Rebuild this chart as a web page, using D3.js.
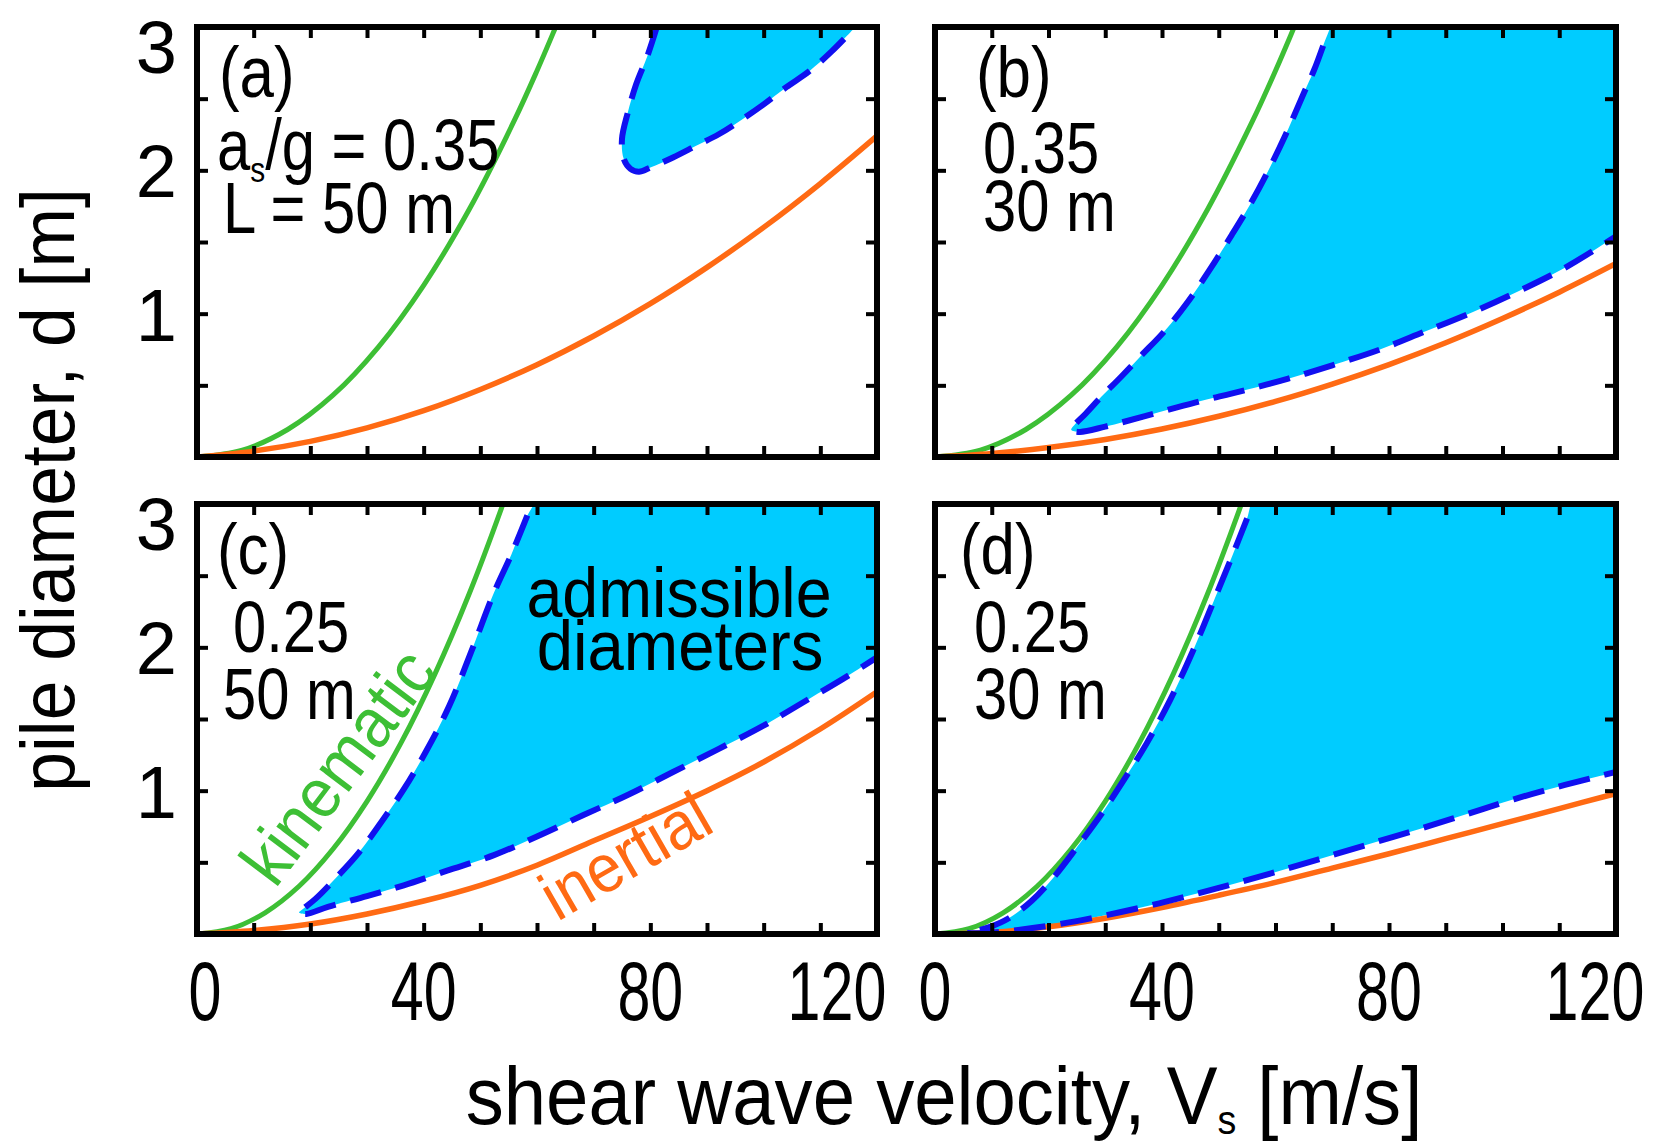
<!DOCTYPE html>
<html><head><meta charset="utf-8">
<script src="https://cdn.jsdelivr.net/npm/d3@7"></script>
<style>body{margin:0;background:#fff}</style></head>
<body><svg id="c" width="1663" height="1143"></svg>
<script>
// ---------- data ----------
const vsTicks = [0, 40, 80, 120];
const dTicks = [1, 2, 3];
const vsMinor = [0,10,20,30,40,50,60,70,80,90,100,110,120];
const dMinor = [0,0.5,1,1.5,2,2.5,3];
const panelLabels = ["(a)", "(b)", "(c)", "(d)"];
const accelLabels = ["0.35", "0.35", "0.25", "0.25"];
const lengthLabels = ["50 m", "30 m", "50 m", "30 m"];

// kinematic limit (green), [Vs, d]
const kinematic035 = [[0,0],[8,0.048],[16,0.192],[24,0.431],[32,0.767],[40,1.198],[48,1.725],[56,2.348],[60,2.695],[63.3,3.0],[65,3.16]];
const kinematic025 = [[0,0],[6,0.037],[12,0.148],[18,0.333],[24,0.593],[30,0.926],[36,1.333],[42,1.815],[48,2.37],[54,3.0],[56,3.23]];

// inertial limit (orange), d at Vs = 0,10,...,120
const inertialVs = [0,10,20,30,40,50,60,70,80,90,100,110,120];
const inertialA = [0,0.041,0.109,0.203,0.323,0.471,0.644,0.844,1.070,1.323,1.602,1.908,2.24];
const inertialB = [0,0.025,0.066,0.122,0.195,0.284,0.388,0.509,0.645,0.797,0.966,1.150,1.35];
const inertialC = [0,0.025,0.07,0.14,0.23,0.34,0.48,0.65,0.82,1.0,1.2,1.43,1.69];
const inertialD = [0,0.012,0.05,0.11,0.185,0.27,0.36,0.46,0.56,0.665,0.77,0.875,0.98];

// admissible region boundaries (blue dashed), [Vs, d]
const boundaryA = [[81.3,3.02],[79.5,2.8],[77.5,2.6],[76.0,2.4],[75.0,2.22],[75.3,2.08],[76.5,2.01],[78,1.99],[80,2.02],[84,2.09],[88,2.17],[92,2.25],[96,2.35],[100,2.46],[104,2.58],[108,2.69],[112,2.83],[116.2,3.0]];
const upperB = [[69.9,3.02],[68.4,2.87],[66.8,2.7],[65,2.54],[61.8,2.25],[58.5,1.98],[55.5,1.76],[52.3,1.55],[48.3,1.3],[44.5,1.08],[40.5,0.88],[36.4,0.71],[32.8,0.56],[29.3,0.42],[26.5,0.3],[24.6,0.225],[24.0,0.19]];
const lowerB = [[25.5,0.175],[30,0.212],[37,0.285],[45.8,0.38],[54,0.46],[62.1,0.545],[70,0.64],[78.4,0.75],[86,0.87],[94.7,1.01],[103,1.16],[111,1.32],[120,1.54]];
const upperC = [[59.9,3.02],[58.3,2.92],[55.5,2.65],[52.4,2.38],[48.5,1.98],[44.5,1.59],[40.5,1.28],[36.5,1.01],[32.5,0.78],[28.6,0.57],[24.5,0.39],[20.9,0.245],[18.7,0.175],[18.0,0.15]];
const lowerC = [[19.3,0.14],[23.1,0.19],[30,0.265],[36.5,0.34],[44,0.44],[52.4,0.55],[60,0.68],[68.2,0.83],[76,0.97],[84,1.13],[92,1.29],[99.8,1.45],[108,1.64],[114,1.78],[120,1.93]];
const upperD = [[55.7,3.02],[55,2.9],[52.5,2.65],[49.5,2.36],[45.5,1.98],[41.4,1.63],[37.3,1.33],[33.2,1.07],[29.2,0.83],[25.1,0.61],[21,0.4],[17.0,0.23],[13,0.11],[9.7,0.05],[7,0.02],[5.5,0.01]];
const lowerD = [[8,0.005],[15,0.03],[22,0.07],[30,0.13],[38,0.2],[46,0.28],[54,0.365],[62,0.455],[70,0.55],[78,0.645],[86,0.74],[94,0.84],[102,0.94],[111,1.04],[120,1.13]];

// ---------- drawing ----------
const svg = d3.select("#c");
svg.append("rect").attr("width",1663).attr("height",1143).attr("fill","#fff");
const FONT = "'Liberation Sans', Arial, Helvetica, sans-serif";
const C_FILL = "#00ccff", C_BLUE = "#1010f0", C_GREEN = "#3dbf35", C_ORANGE = "#ff6a13";

function txt(parent, x, y, str, o) {
  o = o || {};
  const t = parent.append("text")
    .attr("transform", `translate(${x},${y}) rotate(${o.rot||0}) scale(${o.sx||1},1)`)
    .attr("font-family", FONT).attr("font-size", o.size || 60)
    .attr("text-anchor", o.anchor || "start").attr("fill", o.fill || "#000");
  if (str !== null) t.text(str);
  return t;
}

const layout = [
  {x:197, y:27, w:680, h:430},
  {x:935, y:27, w:681, h:430},
  {x:197, y:504, w:680, h:430},
  {x:935, y:504, w:681, h:430}
];
const kin = [kinematic035, kinematic035, kinematic025, kinematic025];
const inert = [inertialA, inertialB, inertialC, inertialD];
const regions = [
  {closed: boundaryA},
  {upper: upperB, lower: lowerB},
  {upper: upperC, lower: lowerC},
  {upper: upperD, lower: lowerD}
];
const annPos = [
  {lx: 22, ly: 70, ax: 20, ay: 143, bx: 26, by: 206},
  {lx: 41, ly: 70, ax: 48, ay: 146, bx: 48, by: 204},
  {lx: 20, ly: 70, ax: 36, ay: 148, bx: 26, by: 215},
  {lx: 25, ly: 70, ax: 39, ay: 148, bx: 39, by: 215}
];

layout.forEach((L, i) => {
  const g = svg.append("g").attr("transform", `translate(${L.x},${L.y})`);
  const x = d3.scaleLinear().domain([0,120]).range([0, L.w]);
  const y = d3.scaleLinear().domain([0,3]).range([L.h, 0]);
  const clipId = "clip" + i;
  g.append("clipPath").attr("id", clipId).append("rect").attr("width", L.w).attr("height", L.h);
  const plot = g.append("g").attr("clip-path", `url(#${clipId})`);
  const line = d3.line().x(d => x(d[0])).y(d => y(d[1])).curve(d3.curveCatmullRom.alpha(0.5));

  // admissible region fill
  const R = regions[i];
  let dStr, dashPts;
  if (R.closed) {
    dashPts = R.closed;
    dStr = line(R.closed) + `L${x(R.closed[R.closed.length-1][0])},${y(3.3)}L${x(R.closed[0][0])},${y(3.3)}Z`;
  } else {
    dashPts = R.upper.slice(1).concat(R.lower);
    const last = R.lower[R.lower.length-1];
    dStr = line(R.upper.concat(R.lower)) + `L${x(125)},${y(last[1])}L${x(125)},${y(3.3)}L${x(R.upper[0][0])},${y(3.3)}Z`;
  }
  plot.append("path").attr("d", dStr).attr("fill", C_FILL).attr("stroke", "none");

  // kinematic (green)
  plot.append("path").attr("d", line(kin[i])).attr("fill","none")
    .attr("stroke", C_GREEN).attr("stroke-width", 5);
  // inertial (orange)
  const inPts = inertialVs.map((v, k) => [v, inert[i][k]]);
  plot.append("path").attr("d", line(inPts)).attr("fill","none")
    .attr("stroke", C_ORANGE).attr("stroke-width", 5.5);
  // dashed boundary
  plot.append("path").attr("d", line(dashPts)).attr("fill","none")
    .attr("stroke", C_BLUE).attr("stroke-width", 6)
    .attr("stroke-dasharray", "32,15").attr("stroke-linecap","butt");

  // axes with inward ticks
  const tl = 11;
  const axB = g.append("g").attr("transform", `translate(0,${L.h})`)
    .call(d3.axisBottom(x).tickValues(vsMinor).tickSize(-tl).tickFormat(""));
  const axT = g.append("g")
    .call(d3.axisTop(x).tickValues(vsMinor).tickSize(-tl).tickFormat(""));
  const axL = g.append("g")
    .call(d3.axisLeft(y).tickValues(dMinor).tickSize(-tl).tickFormat(""));
  const axR = g.append("g").attr("transform", `translate(${L.w},0)`)
    .call(d3.axisRight(y).tickValues(dMinor).tickSize(-tl).tickFormat(""));
  [axB, axT, axL, axR].forEach(a => {
    a.select(".domain").remove();
    a.selectAll("line").attr("stroke", "#000").attr("stroke-width", 4);
  });
  g.append("rect").attr("width", L.w).attr("height", L.h)
    .attr("fill", "none").attr("stroke", "#000").attr("stroke-width", 6);

  // y tick labels (left column only)
  if (i % 2 === 0) {
    dTicks.forEach(t => {
      const yy = y(t) + (t === 3 ? 19 : 0) + 27;
      txt(g, -20, yy, String(t), {size: 74, anchor: "end"});
    });
  }
  // x tick labels (bottom row)
  if (i >= 2) {
    vsTicks.forEach(t => {
      let dx = 0;
      if (t === 0 && i === 2) dx = 8;
      if (t === 120) dx = (i === 2) ? -40 : -21;
      txt(g, x(t) + dx, L.h + 86, String(t), {size: 84, sx: 0.705, anchor: "middle"});
    });
  }

  // panel annotations
  const A = annPos[i];
  txt(g, A.lx, A.ly, panelLabels[i], {size: 72, sx: 0.86});
  if (i === 0) {
    const t1 = txt(g, A.ax, A.ay, null, {size: 72, sx: 0.83});
    t1.append("tspan").text("a");
    t1.append("tspan").attr("font-size", 36).attr("dy", 12).text("s");
    t1.append("tspan").attr("dy", -12).text("/g = " + accelLabels[i]);
    txt(g, A.bx, A.by, "L = " + lengthLabels[i], {size: 72, sx: 0.83});
  } else {
    txt(g, A.ax, A.ay, accelLabels[i], {size: 72, sx: 0.83});
    txt(g, A.bx, A.by, lengthLabels[i], {size: 72, sx: 0.83});
  }
});

// curve labels in panel (c)
txt(svg, 679, 617, "admissible", {size: 71, sx: 0.91, anchor: "middle"});
txt(svg, 680, 670, "diameters", {size: 71, sx: 0.92, anchor: "middle"});
txt(svg, 357, 781, "kinematic", {size: 70, sx: 0.92, anchor: "middle", rot: -53, fill: C_GREEN});
txt(svg, 637, 876, "inertial", {size: 68, sx: 0.92, anchor: "middle", rot: -30, fill: C_ORANGE});

// axis titles
const xt = txt(svg, 944, 1124, null, {size: 81, sx: 0.94, anchor: "middle"});
xt.append("tspan").text("shear wave velocity, V");
xt.append("tspan").attr("font-size", 40).attr("dy", 10).text("s");
xt.append("tspan").attr("dy", -10).text(" [m/s]");
txt(svg, 74, 490, "pile diameter, d [m]", {size: 76, sx: 0.94, anchor: "middle", rot: -90});
</script></body></html>
